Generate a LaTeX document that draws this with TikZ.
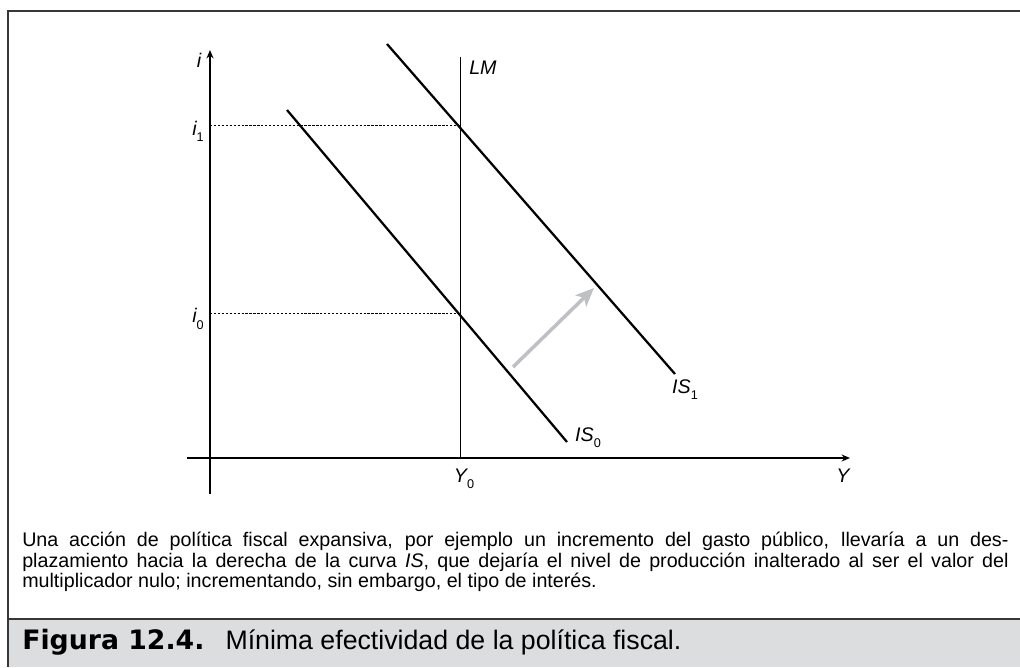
\documentclass[tikz,border=0pt]{standalone}
\usepackage{fontspec}
\setmainfont{Liberation Sans}
\newfontfamily\figfont{DejaVu Sans}
\usepackage{xcolor}
\usetikzlibrary{positioning}
\usetikzlibrary{calc}
\usetikzlibrary{arrows.meta}
\definecolor{framegray}{RGB}{55,55,55}
\definecolor{capgray}{RGB}{220,221,223}
\definecolor{shiftgray}{RGB}{190,192,196}
\newcommand{\lowidx}[1]{\raisebox{-0.6ex}{\fontsize{9}{9}\selectfont\upshape #1}}

\begin{document}
\begin{tikzpicture}[x=0.025cm,y=0.025cm,
    axis/.style={line width=0.9pt,-{Stealth[length=6pt,width=5pt]}},
    curve/.style={line width=1.6pt},
    guide/.style={line width=0.6pt,dash pattern=on 1.6pt off 1.2pt},
    lbl/.style={font=\fontsize{14}{14}\selectfont\itshape,inner sep=0pt}]

    \useasboundingbox (0,0) rectangle (1020,667);

    % frame and caption band
    \fill[capgray] (8,0) rectangle (1020,48);
    \draw[framegray,line width=1.5pt] (8,0) -- (8,656) -- (1020,656);
    \draw[framegray,line width=1.5pt] (8,48) -- (1020,48);

    % points
    \coordinate (yb) at (210,173);
    \coordinate (yt) at (210,617);
    \coordinate (xl) at (187,209);
    \coordinate (xr) at (850,209);
    \coordinate (lmt) at (460,610);
    \coordinate (lmb) at (460,209);
    \coordinate (e1) at (460,541.5);
    \coordinate (e0) at (460,353.5);
    \coordinate (a1) at (210,541.5);
    \coordinate (a0) at (210,353.5);
    \coordinate (is0t) at (287,557);
    \coordinate (is0b) at (567,225);
    \coordinate (is1t) at (387,623);
    \coordinate (is1b) at (675,293);
    \coordinate (sh0) at (513,300);
    \coordinate (sh1) at (594,379);

    % axes
    \draw[axis] (yb) -- (yt);
    \draw[axis] (xl) -- (xr);

    % curves
    \draw[line width=0.7pt] (lmb) -- (lmt);
    \draw[guide] (a1) -- (e1);
    \draw[guide] (a0) -- (e0);
    \draw[curve] (is0t) -- (is0b);
    \draw[curve] (is1t) -- (is1b);
    \draw[shiftgray,line width=2.5pt,-{Stealth[length=13pt,width=11pt,inset=3pt]}] (sh0) -- (sh1);

    % labels
    \node[lbl] (li) at (199,607) {i};
    \node[lbl] (li1) at (198,536) {i\lowidx{1}};
    \node[lbl] (li0) at (198,348) {i\lowidx{0}};
    \node[lbl,anchor=west] (llm) at (469,599) {LM};
    \node[lbl] (lis1) at (685,277) {IS\lowidx{1}};
    \node[lbl] (lis0) at (588,229) {IS\lowidx{0}};
    \node[lbl] (ly0) at (464,188) {Y\lowidx{0}};
    \node[lbl] (ly) at (843,191) {Y};

    % caption
    \node[anchor=north west,inner sep=0pt,text width=24.65cm,align=justify,
          font=\fontsize{14}{14.6}\selectfont] (txt) at (22,135)
      {Una acción de política fiscal expansiva, por ejemplo un incremento del gasto público, llevaría a un des-\linebreak
       plazamiento hacia la derecha de la curva \textit{IS}, que dejaría el nivel de producción inalterado al ser el valor del\linebreak
       multiplicador nulo; incrementando, sin embargo, el tipo de interés.};
    \node[anchor=west,inner sep=0pt,font=\fontsize{19}{20}\selectfont] (fig) at (22,25)
      {{\figfont\bfseries Figura 12.4.}\hspace{15pt}Mínima efectividad de la política fiscal.};
\end{tikzpicture}
\end{document}
